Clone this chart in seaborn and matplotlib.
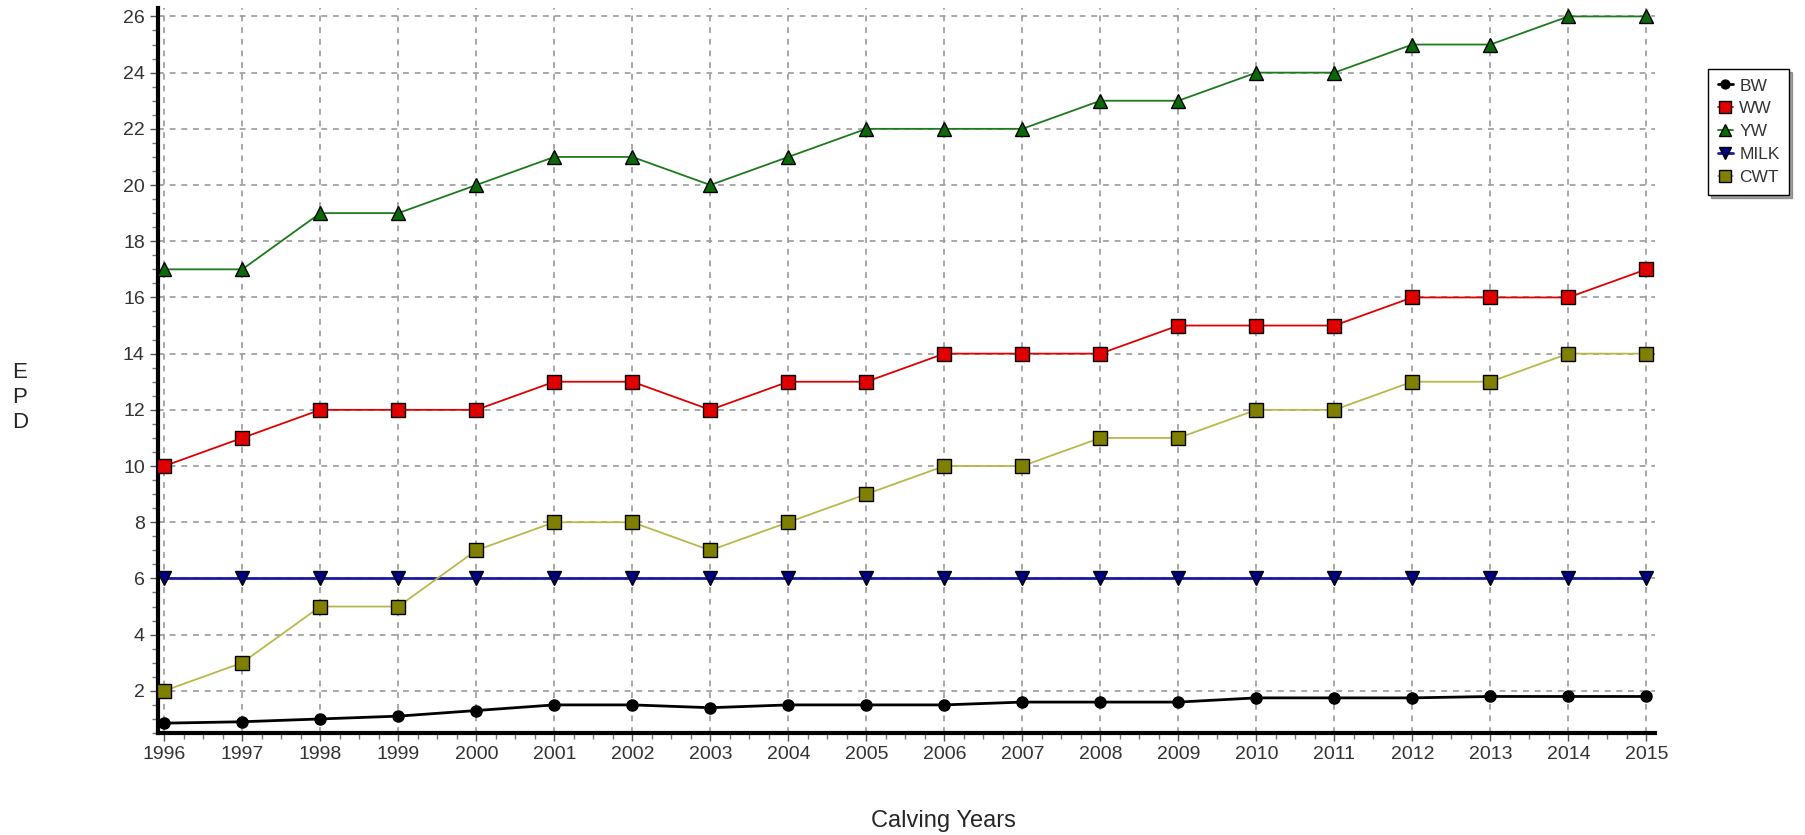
import numpy as np
import pandas as pd
import matplotlib
matplotlib.use("Agg")
import matplotlib.pyplot as plt
import seaborn as sns
from matplotlib.ticker import MultipleLocator

# Данные: EPD по годам отёла
years = list(range(1996, 2016))
bw = [0.85, 0.9, 1.0, 1.1, 1.3, 1.5, 1.5, 1.4, 1.5, 1.5, 1.5, 1.6, 1.6, 1.6, 1.75, 1.75, 1.75, 1.8, 1.8, 1.8]
ww = [10, 11, 12, 12, 12, 13, 13, 12, 13, 13, 14, 14, 14, 15, 15, 15, 16, 16, 16, 17]
yw = [17, 17, 19, 19, 20, 21, 21, 20, 21, 22, 22, 22, 23, 23, 24, 24, 25, 25, 26, 26]
milk = [6] * 20
cwt = [2, 3, 5, 5, 7, 8, 8, 7, 8, 9, 10, 10, 11, 11, 12, 12, 13, 13, 14, 14]

series_names = ["BW", "WW", "YW", "MILK", "CWT"]
series_values = [bw, ww, yw, milk, cwt]

df = pd.DataFrame({"year": years})
for name, vals in zip(series_names, series_values):
    df[name] = vals

# стиль каждой линии
styles = {
    "BW":   dict(color="black", marker="o", mfc="black", ms=8, lw=2.0),
    "WW":   dict(color="#e00000", marker="s", mfc="#e00000", ms=10, lw=1.3),
    "YW":   dict(color="#1d7a1d", marker="^", mfc="#0a6a0a", ms=10, lw=1.3),
    "MILK": dict(color="#1a1aa0", marker="v", mfc="#000080", ms=10, lw=2.0),
    "CWT":  dict(color="#b8b84a", marker="s", mfc="#808000", ms=10, lw=1.3),
}

sns.set_style("white")
plt.rcParams["font.family"] = ["Liberation Sans", "DejaVu Sans"]

fig = plt.figure(figsize=(18.05, 8.35), dpi=100)
ax = fig.add_axes([158 / 1805, 1 - 733 / 835, (1655 - 158) / 1805, (733 - 8) / 835])

for name in series_names:
    st = styles[name]
    sns.lineplot(data=df, x="year", y=name, ax=ax, label=name,
                 color=st["color"], linewidth=st["lw"],
                 marker=st["marker"], markersize=st["ms"],
                 markerfacecolor=st["mfc"], markeredgecolor="black",
                 markeredgewidth=1.0, zorder=3)

ax.set_xlim(1995.92, 2015.11)
ax.set_ylim(0.5, 26.3)
ax.set_xticks(years)
ax.set_xticklabels([str(y) for y in years])
ax.set_yticks(np.arange(2, 27, 2))
ax.xaxis.set_minor_locator(MultipleLocator(0.25))
ax.yaxis.set_minor_locator(MultipleLocator(0.5))

ax.grid(True, which="major", color="#9a9a9a", linestyle=(0, (3.5, 3.5)), linewidth=1.2)
ax.set_axisbelow(True)

for side in ["top", "right"]:
    ax.spines[side].set_visible(False)
for side in ["left", "bottom"]:
    ax.spines[side].set_linewidth(3)
    ax.spines[side].set_color("black")

ax.tick_params(axis="both", which="major", direction="out", length=6, width=1,
               labelsize=14, labelcolor="#333333", color="#555555", bottom=True, left=True)
ax.tick_params(axis="both", which="minor", direction="out", length=4, width=1,
               color="#777777", bottom=True, left=True)

ax.set_xlabel("")
ax.set_ylabel("")
fig.text(943 / 1805, 1 - 821 / 835, "Calving Years", ha="center", va="center", fontsize=17)
fig.text(20 / 1805, 1 - 398 / 835, "E\nP\nD", ha="center", va="center", fontsize=16,
         linespacing=1.25)

leg = ax.legend(loc="upper left", bbox_to_anchor=(0.9415, 0.928), bbox_transform=fig.transFigure,
                frameon=True, fancybox=False, shadow=True, edgecolor="black",
                fontsize=12.5, handlelength=0.9, handletextpad=0.35, labelspacing=0.45,
                borderpad=0.55, markerscale=0.8)
leg.get_frame().set_linewidth(1.0)
for t in leg.get_texts():
    t.set_color("#333333")

fig.savefig("out.png", dpi=100)
